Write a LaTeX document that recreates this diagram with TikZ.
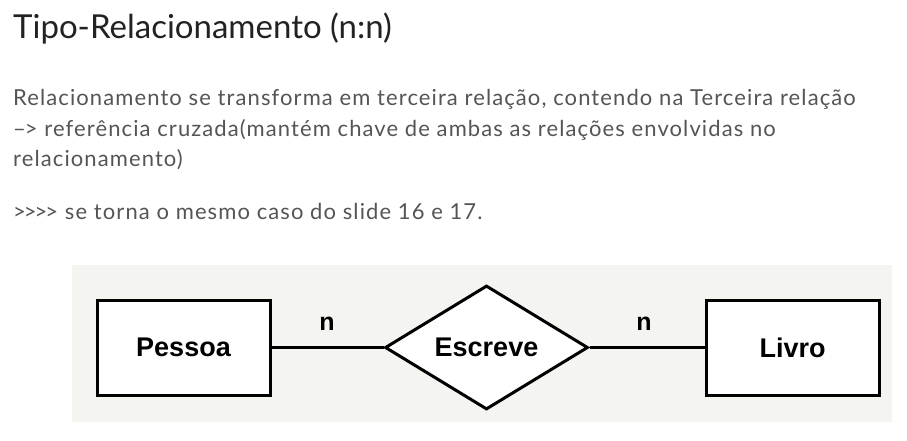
\documentclass[tikz,border=0pt]{standalone}
\usepackage{fontspec}
\setmainfont{Lato}
\newfontfamily\bodyfont{Lato}[LetterSpace=5]
\newfontfamily\tightfont{Lato}
\newfontfamily\erfont{Liberation Sans}
\usetikzlibrary{shapes.geometric}
\definecolor{titlecol}{HTML}{222222}
\definecolor{textcol}{HTML}{555555}
\definecolor{panel}{HTML}{F4F4F1}
\tikzset{
  titletext/.style={anchor=base west, inner sep=0pt, text=titlecol, font=\fontsize{33}{36}\selectfont},
  bodytext/.style={anchor=base west, inner sep=0pt, text=textcol, font=\bodyfont\fontsize{22}{26}\selectfont},
  entity/.style={draw=black, line width=3pt, fill=white, minimum width=173pt, minimum height=95pt, inner sep=0pt, font=\erfont\bfseries\fontsize{27}{30}\selectfont},
  relation/.style={draw=black, line width=3pt, fill=white, diamond, minimum width=203pt, minimum height=124pt, inner sep=0pt, font=\erfont\bfseries\fontsize{27}{30}\selectfont},
  card/.style={inner sep=0pt, font=\erfont\bfseries\fontsize{25}{28}\selectfont},
  link/.style={draw=black, line width=3pt}
}
\begin{document}
\begin{tikzpicture}[x=1pt,y=-1pt]
\useasboundingbox (0,0) rectangle (907,441);
\fill[white] (0,0) rectangle (907,441);
\fill[panel] (72,265) rectangle (892,422);
\node[titletext] (title) at (13,39) {Tipo-Relacionamento (n:n)};
\node[bodytext] (l1) at (13,106) {Relacionamento se transforma em terceira relação, contendo na Terceira relação};
\node[bodytext] (l2) at (13,136) {{\tightfont –\kern-1pt>} referência cruzada(mantém chave de ambas as relações envolvidas no};
\node[bodytext] (l3) at (13,166) {relacionamento)};
\node[bodytext] (l4) at (13,219) {{\tightfont >\kern-2pt>\kern-2pt>\kern-2pt>} se torna o mesmo caso do slide 16 e 17.};
\node[entity] (pessoa) at (183.5,347.5) {Pessoa};
\node[relation] (escreve) at (486.5,347.5) {Escreve};
\node[entity] (livro) at (792.5,347.5) {Livro};
\draw[link] (pessoa.east) -- (escreve.west);
\draw[link] (escreve.east) -- (livro.west);
\node[card] (n1) at (327,324) {n};
\node[card] (n2) at (644,324) {n};
\end{tikzpicture}
\end{document}
